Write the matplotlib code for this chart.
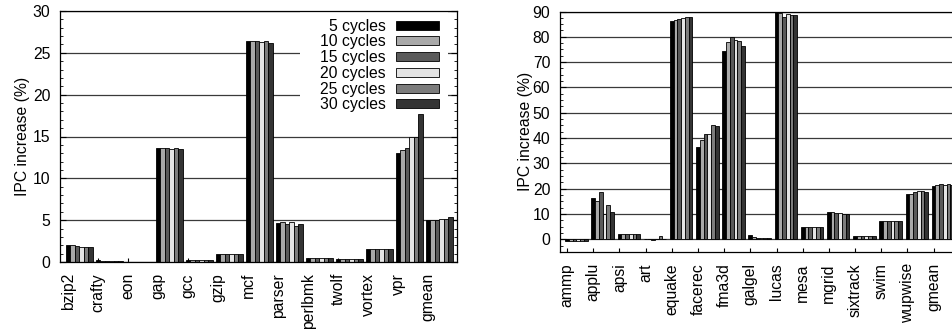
import matplotlib.pyplot as plt
import numpy as np
from matplotlib.patches import Rectangle
from matplotlib.ticker import AutoMinorLocator, MultipleLocator

plt.rcParams["font.family"] = ["Liberation Sans", "DejaVu Sans"]

cycle_labels = ["5 cycles", "10 cycles", "15 cycles", "20 cycles", "25 cycles", "30 cycles"]
bar_colors = ["#000000", "#a9a9a9", "#5a5a5a", "#e4e4e4", "#7c7c7c", "#343434"]

# SPECint benchmarks
int_names = ["bzip2", "crafty", "eon", "gap", "gcc", "gzip", "mcf",
             "parser", "perlbmk", "twolf", "vortex", "vpr", "gmean"]
int_5 = [2.0, 0.2, 0.05, 13.6, 0.25, 0.9, 26.45, 4.67, 0.52, 0.35, 1.5, 13.05, 5.0]
int_10 = [2.0, 0.15, 0.05, 13.6, 0.25, 0.9, 26.45, 4.75, 0.45, 0.4, 1.5, 13.35, 5.05]
int_15 = [1.95, 0.15, 0.05, 13.6, 0.25, 0.9, 26.45, 4.5, 0.45, 0.35, 1.5, 13.6, 5.05]
int_20 = [1.85, 0.15, 0.05, 13.55, 0.25, 0.9, 26.3, 4.83, 0.45, 0.4, 1.55, 14.95, 5.15]
int_25 = [1.75, 0.15, 0.05, 13.6, 0.25, 0.9, 26.45, 4.3, 0.45, 0.4, 1.5, 14.95, 5.1]
int_30 = [1.85, 0.15, 0.03, 13.5, 0.25, 0.9, 26.2, 4.6, 0.45, 0.4, 1.5, 17.7, 5.35]

# SPECfp benchmarks
fp_names = ["ammp", "applu", "apsi", "art", "equake", "facerec", "fma3d", "galgel",
            "lucas", "mesa", "mgrid", "sixtrack", "swim", "wupwise", "gmean"]
fp_5 = [-0.8, 16.4, 2.0, 0.1, 86.3, 36.4, 74.2, 1.6, 89.7, 4.8, 10.7, 1.3, 7.1, 17.9, 21.1]
fp_10 = [-0.8, 15.0, 2.1, 0.05, 86.7, 39.3, 77.8, 0.8, 89.5, 4.8, 10.7, 1.3, 7.1, 17.9, 21.5]
fp_15 = [-0.8, 18.6, 2.1, -0.2, 87.2, 41.8, 79.8, 0.5, 87.7, 4.8, 10.5, 1.3, 7.1, 18.7, 22.0]
fp_20 = [-0.8, 10.2, 2.1, 0.05, 87.6, 41.6, 78.6, 0.5, 88.9, 4.8, 10.3, 1.3, 7.1, 19.1, 21.3]
fp_25 = [-0.8, 13.6, 2.1, 1.3, 87.7, 45.3, 78.2, 0.5, 88.7, 5.0, 10.2, 1.3, 7.1, 19.1, 21.9]
fp_30 = [-0.7, 10.8, 2.1, 0.1, 87.7, 44.9, 76.4, 0.4, 88.7, 4.9, 10.2, 1.3, 7.1, 18.8, 21.6]

int_series = [int_5, int_10, int_15, int_20, int_25, int_30]
fp_series = [fp_5, fp_10, fp_15, fp_20, fp_25, fp_30]

FS = 11.3


def draw_clusters(ax, names, series, width, labelpad):
    x = np.arange(len(names))
    handles = []
    for j, (values, color) in enumerate(zip(series, bar_colors)):
        bars = ax.bar(x + j * width, values, width=width, color=color,
                      edgecolor="black", linewidth=0.6, zorder=2,
                      label=cycle_labels[j])
        handles.append(bars)
    ax.set_xticks(x)
    ax.set_xticklabels(names, rotation=90, fontsize=FS, va="top", ha="center")
    ax.tick_params(axis="x", direction="in", length=3, width=0.8, pad=8,
                   top=False, bottom=True)
    ax.tick_params(axis="y", which="major", direction="in", length=4,
                   width=0.8, labelsize=FS, pad=7, left=True, right=True)
    ax.tick_params(axis="y", which="minor", direction="in", length=2,
                   width=0.6, left=True, right=True)
    ax.set_ylabel("IPC increase (%)", fontsize=FS, labelpad=labelpad)
    ax.grid(axis="y", color="#3a3a3a", linewidth=0.9, zorder=0)
    ax.set_axisbelow(True)
    for spine in ax.spines.values():
        spine.set_linewidth(0.9)
    return handles


fig = plt.figure(figsize=(9.53, 3.31), dpi=100)

ax_int = fig.add_axes([60 / 953, 69 / 331, 397 / 953, 251 / 331])
handles = draw_clusters(ax_int, int_names, int_series, 0.15, labelpad=2)
ax_int.set_xlim(-0.27, 12.96)
ax_int.set_ylim(0, 30)
ax_int.yaxis.set_major_locator(MultipleLocator(5))
ax_int.yaxis.set_minor_locator(AutoMinorLocator(5))

# opaque key area covering the grid
ax_int.add_patch(Rectangle((0.605, 0.598), 0.372, 0.398, transform=ax_int.transAxes,
                           facecolor="white", edgecolor="none", zorder=1))
ax_int.legend(handles=handles, loc="upper right", bbox_to_anchor=(0.962, 0.982),
              borderaxespad=0, frameon=False, markerfirst=False, fontsize=FS,
              handlelength=2.75, handleheight=0.5, handletextpad=0.65,
              labelspacing=0.047, borderpad=0.2)

ax_fp = fig.add_axes([560 / 953, 79 / 331, 399 / 953, 240.5 / 331])
draw_clusters(ax_fp, fp_names, fp_series, 1 / 7, labelpad=0)
ax_fp.set_xlim(-0.27, 14.97)
ax_fp.set_ylim(-5, 90)
ax_fp.yaxis.set_major_locator(MultipleLocator(10))
ax_fp.yaxis.set_minor_locator(AutoMinorLocator(4))
ax_fp.set_yticks(np.arange(0, 91, 10))

fig.savefig("out.png", dpi=100)
